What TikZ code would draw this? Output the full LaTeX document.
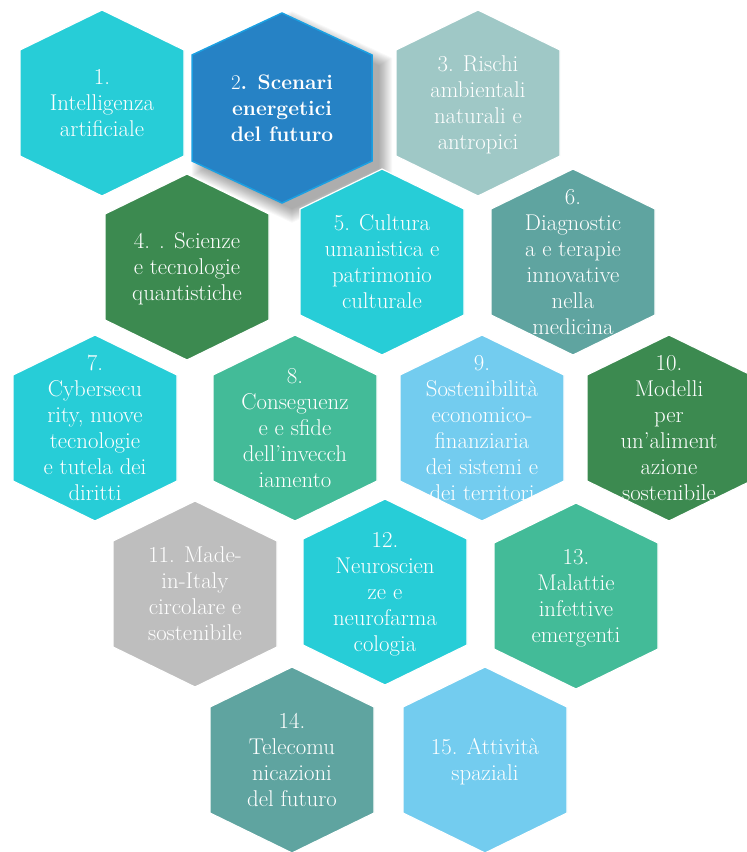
\documentclass[tikz,border=0pt]{standalone}
\usepackage{tikz}
\definecolor{cyanH}{HTML}{27CDD7}
\definecolor{blueH}{HTML}{2682C5}
\definecolor{blueB}{HTML}{1BA0E2}
\definecolor{sageH}{HTML}{9FC8C6}
\definecolor{greenH}{HTML}{3C8A50}
\definecolor{tealH}{HTML}{5FA4A0}
\definecolor{mintH}{HTML}{43BB98}
\definecolor{skyH}{HTML}{73CCEF}
\definecolor{grayH}{HTML}{BEBEBE}
\tikzset{
  hextext/.style={text=white, align=center, inner sep=0pt,
    font=\fontsize{22.8}{26}\selectfont},
  hexfill/.style={fill=#1, draw=white, line width=1.2pt}
}
\newcommand\hexcell[5]{%
  \path[hexfill=#3] (#1,#2) ++(0,-93) -- ++(82,40) -- ++(0,106) -- ++(-82,40) -- ++(-82,-40) -- ++(0,-106) -- cycle;
  \node[hextext] (#4) at (#1,#2+2) {\strut#5\strut};
}
\begin{document}
\begin{tikzpicture}[x=1pt,y=-1pt]
\useasboundingbox (0,0) rectangle (747,852);
% soft shadow of hex 2
\foreach \k in {0,...,13}{
  \begin{scope}[shift={(292,117)}, scale={0.97+0.011*\k}]
    \fill[black, opacity=0.028] (0,-95) -- (90,-53) -- (90,53) -- (0,95) -- (-90,53) -- (-90,-53) -- cycle;
  \end{scope}
}
\hexcell{102}{103}{cyanH}{h1}{1.\\Intelligenza\\artificiale}
\hexcell{478}{103}{sageH}{h3}{3. Rischi\\ambientali\\naturali e\\antropici}
\hexcell{187}{267}{greenH}{h4}{4. . Scienze\\e tecnologie\\quantistiche}
\hexcell{382}{262}{cyanH}{h5}{5. Cultura\\umanistica e\\patrimonio\\culturale}
\hexcell{573}{262}{tealH}{h6}{6.\\Diagnostic\\a e terapie\\innovative\\nella\\medicina}
\hexcell{95}{428}{cyanH}{h7}{7.\\Cybersecu\\rity, nuove\\tecnologie\\e tutela dei\\diritti}
\hexcell{295}{428}{mintH}{h8}{8.\\Conseguenz\\e e sfide\\dell’invecch\\iamento}
\hexcell{482}{428}{skyH}{h9}{9.\\Sostenibilità\\economico-\\finanziaria\\dei sistemi e\\dei territori}
\hexcell{669}{428}{greenH}{h10}{10.\\Modelli\\per\\un’aliment\\azione\\sostenibile}
\hexcell{195}{594}{grayH}{h11}{11. Made-\\in-Italy\\circolare e\\sostenibile}
\hexcell{385}{592}{cyanH}{h12}{12.\\Neuroscien\\ze e\\neurofarma\\cologia}
\hexcell{576}{596}{mintH}{h13}{13.\\Malattie\\infettive\\emergenti}
\hexcell{292}{760}{tealH}{h14}{14.\\Telecomu\\nicazioni\\del futuro}
\hexcell{485}{760}{skyH}{h15}{15. Attività\\spaziali}
% hex 2 (emphasised)
\path[fill=blueH, draw=blueB, line width=1.5pt] (282,13) -- (372,55) -- (372,161) -- (282,203) -- (192,161) -- (192,55) -- cycle;
\node[hextext, font=\fontsize{21}{26}\selectfont] (h2) at (282,110) {\strut 2\textbf{. Scenari}\\\textbf{energetici}\\\textbf{del futuro}\strut};
\end{tikzpicture}
\end{document}
